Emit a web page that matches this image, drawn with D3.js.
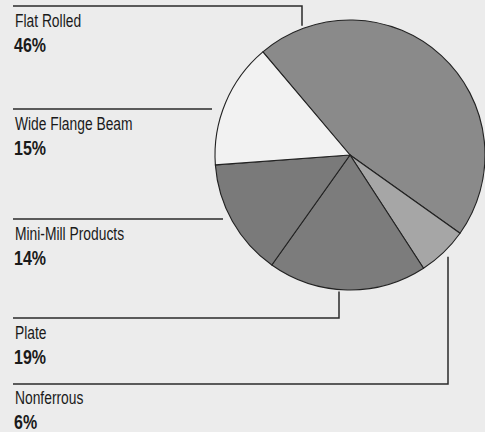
<!DOCTYPE html>
<html>
<head>
<meta charset="utf-8">
<script src="https://cdn.jsdelivr.net/npm/d3@7"></script>
<style>
  body { margin: 0; background: #ececec; }
  .name { font-family: "Liberation Sans", Arial, sans-serif; font-size: 17.5px; fill: #1a1a1a; }
  .pct { font-family: "Liberation Sans", Arial, sans-serif; font-size: 20px; font-weight: bold; fill: #1a1a1a; }
</style>
</head>
<body>
<script>
var svgWidth = 485;
var svgHeight = 432;

// Data
var categories = ["Flat Rolled", "Nonferrous", "Plate", "Mini-Mill Products", "Wide Flange Beam"];
var shares = [46, 6, 19, 14, 15];
var shareLabels = ["46%", "6%", "19%", "14%", "15%"];
var colors = ["#8a8a8a", "#a6a6a6", "#7c7c7c", "#7a7a7a", "#f2f2f2"];

// label rows down the left side (y of the rule above each label)
var labelRuleY = {"Flat Rolled": 6, "Wide Flange Beam": 109, "Mini-Mill Products": 219, "Plate": 318, "Nonferrous": 383};

var cx = 350, cy = 155, r = 135;
var leftX = 13;

var svg = d3.select("body")
  .append("svg")
  .attr("width", svgWidth)
  .attr("height", svgHeight);

svg.append("rect")
  .attr("width", svgWidth)
  .attr("height", svgHeight)
  .attr("fill", "#ececec");

var start = 319.8 * Math.PI / 180;
var pie = d3.pie().sort(null).startAngle(start).endAngle(start + 2 * Math.PI);
var arc = d3.arc().innerRadius(0).outerRadius(r);

var pieGroup = svg.append("g")
  .attr("transform", `translate(${cx}, ${cy})`);

pieGroup.selectAll("path")
  .data(pie(shares))
  .enter()
  .append("path")
  .attr("d", arc)
  .attr("fill", (d, i) => colors[i])
  .attr("stroke", "#222")
  .attr("stroke-width", 1.1)
  .attr("stroke-linejoin", "round");

// leader lines
function edgeY(x, below) {
  var dx = x - cx;
  var h = Math.sqrt(r * r - dx * dx);
  return below ? cy + h : cy - h;
}

var leaders = [
  [[leftX, 6], [302, 6], [302, edgeY(302, false) - 3]],
  [[leftX, 109], [212, 109]],
  [[leftX, 219], [223, 219]],
  [[leftX, 318], [339, 318], [339, edgeY(339, true) + 2]],
  [[leftX, 384], [448, 384], [448, edgeY(448, true) + 9]]
];

svg.selectAll(".leader")
  .data(leaders)
  .enter()
  .append("path")
  .attr("class", "leader")
  .attr("d", d3.line())
  .attr("fill", "none")
  .attr("stroke", "#2a2a2a")
  .attr("stroke-width", 1.5);

// labels, squeezed to a condensed look
function condense(sel, k) {
  sel.each(function() {
    var w = this.getComputedTextLength();
    d3.select(this)
      .attr("textLength", w * k)
      .attr("lengthAdjust", "spacingAndGlyphs");
  });
}

categories.forEach(function(c, i) {
  var y0 = labelRuleY[c];
  svg.append("text")
    .attr("class", "name")
    .attr("x", leftX + 2)
    .attr("y", y0 + 21)
    .text(c)
    .call(condense, 0.79);
  svg.append("text")
    .attr("class", "pct")
    .attr("x", leftX + 1)
    .attr("y", y0 + 46)
    .text(shareLabels[i])
    .call(condense, 0.8);
});
</script>
</body>
</html>
